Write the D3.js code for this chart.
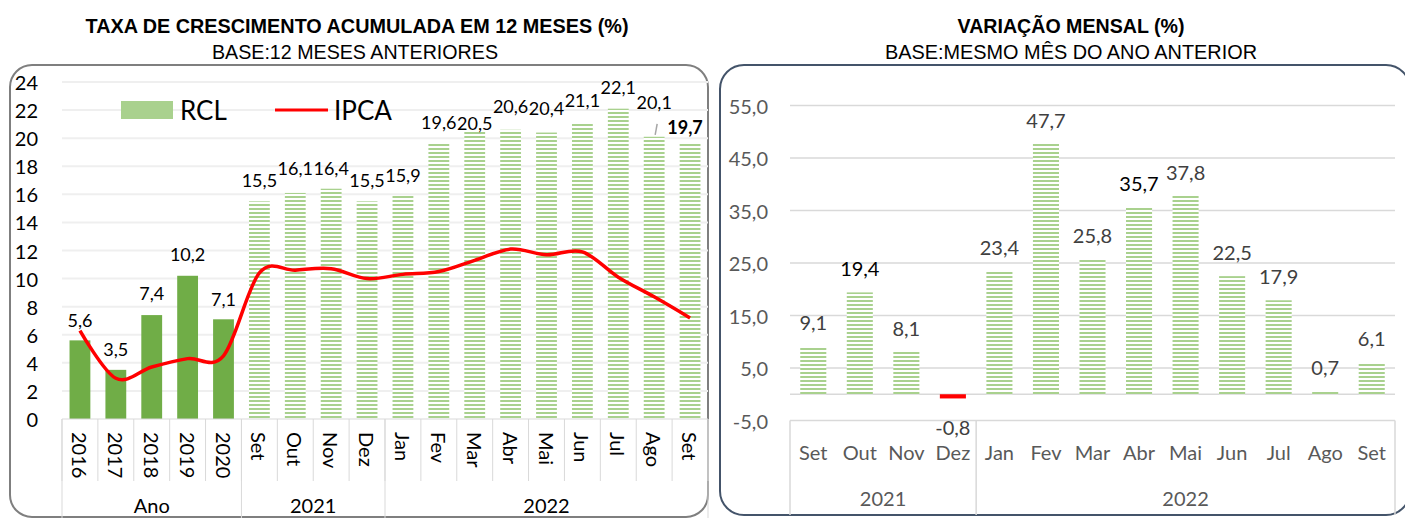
<!DOCTYPE html>
<html>
<head>
  <meta charset="utf-8">
  <title>RCL - Taxa de crescimento e variação mensal</title>
  <script src="https://d3js.org/d3.v7.min.js"></script>
  <style>
    body { margin: 0; background: #fff; }
    svg { display: block; font-family: Lato, "Open Sans", sans-serif; }
    .title { font-family: "Liberation Sans Narrow", "Arial Narrow", "Liberation Sans", sans-serif; font-weight: bold; }
    .subtitle { font-family: "Liberation Sans Narrow", "Arial Narrow", "Liberation Sans", sans-serif; }
  </style>
</head>
<body>
  <svg id="main-svg"></svg>

  <script type="text/javascript">
    const svg_width = 1405;
    const svg_height = 518;

    // ---- left chart data: accumulated 12 months ----
    const accCategories = ["2016", "2017", "2018", "2019", "2020", "Set", "Out", "Nov", "Dez",
      "Jan", "Fev", "Mar", "Abr", "Mai", "Jun", "Jul", "Ago", "Set"];
    const accGroups = ["Ano", "2021", "2022"];
    const accGroupSizes = [5, 4, 9];
    const rclValues = [5.6, 3.5, 7.4, 10.2, 7.1, 15.5, 16.1, 16.4, 15.5, 15.9, 19.6, 20.5, 20.6, 20.4, 21.1, 22.1, 20.1, 19.7];
    const ipcaValues = [6.3, 2.9, 3.7, 4.3, 4.5, 10.4, 10.6, 10.7, 10.0, 10.3, 10.5, 11.3, 12.1, 11.7, 11.9, 10.1, 8.7, 7.2];
    const accTicks = [0, 2, 4, 6, 8, 10, 12, 14, 16, 18, 20, 22, 24];

    // ---- right chart data: monthly variation ----
    const monCategories = ["Set", "Out", "Nov", "Dez", "Jan", "Fev", "Mar", "Abr", "Mai", "Jun", "Jul", "Ago", "Set"];
    const monGroups = ["2021", "2022"];
    const monGroupSizes = [4, 9];
    const monValues = [9.1, 19.4, 8.1, -0.8, 23.4, 47.7, 25.8, 35.7, 37.8, 22.5, 17.9, 0.7, 6.1];
    const monTicks = [-5, 5, 15, 25, 35, 45, 55];

    // label placement tweaks (pixels above bar top), as in the source
    var accLabelLift = [20, 21, 22, 22, 20, 21, 25, 21, 21, 21, 22, 8, 24, 25, 23, 22, 35, 15];
    var monDarkLabels = [1, 7];

    var fmt = function(d, digits) {
      return d.toFixed(digits).replace(".", ",");
    };

    var svg = d3.select("#main-svg")
      .attr("width", svg_width)
      .attr("height", svg_height);

    var defs = svg.append("defs");
    var pat = defs.append("pattern")
      .attr("id", "hatch")
      .attr("patternUnits", "userSpaceOnUse")
      .attr("width", 6)
      .attr("height", 4);
    pat.append("rect").attr("width", 6).attr("height", 4).attr("fill", "#fff");
    pat.append("rect").attr("width", 6).attr("height", 2).attr("fill", "#A9D18E");

    // narrow title helper: squeeze to the width seen in the picture
    function title(x, y, txt, cls, len) {
      svg.append("text")
        .attr("class", cls)
        .attr("x", x).attr("y", y)
        .attr("text-anchor", "middle")
        .attr("textLength", len)
        .attr("lengthAdjust", "spacingAndGlyphs")
        .style("font-size", "21px")
        .text(txt);
    }

    // ================= LEFT CHART =================
    svg.append("rect")
      .attr("x", 10).attr("y", 65)
      .attr("width", 698).attr("height", 452)
      .attr("rx", 22)
      .attr("fill", "none")
      .attr("stroke", "#7F7F7F")
      .attr("stroke-width", 2);

    title(357, 33, "TAXA DE CRESCIMENTO ACUMULADA EM 12 MESES (%)", "title", 543);
    title(355, 59, "BASE:12 MESES ANTERIORES", "subtitle", 286);

    var xa = d3.scaleBand()
      .domain(d3.range(accCategories.length))
      .range([62, 708])
      .paddingInner(0.42)
      .paddingOuter(0.21);

    var ya = d3.scaleLinear()
      .domain([0, 24])
      .range([419, 82]);

    var left = svg.append("g");

    left.selectAll(".grid")
      .data(accTicks.slice(1))
      .enter().append("line")
      .attr("x1", 62).attr("x2", 708)
      .attr("y1", d => ya(d)).attr("y2", d => ya(d))
      .attr("stroke", "#EFEFEF")
      .attr("stroke-width", 2);

    left.selectAll(".ytick")
      .data(accTicks)
      .enter().append("text")
      .attr("x", 38)
      .attr("y", d => ya(d))
      .attr("text-anchor", "end")
      .attr("dominant-baseline", "central")
      .style("font-size", "20px")
      .attr("fill", "#000")
      .text(d => d);

    left.selectAll(".bar")
      .data(rclValues)
      .enter().append("rect")
      .attr("x", (d, i) => xa(i))
      .attr("width", xa.bandwidth())
      .attr("y", d => ya(d))
      .attr("height", d => ya(0) - ya(d))
      .attr("fill", (d, i) => i < 5 ? "#70AD47" : "url(#hatch)");

    // category axis
    var step = xa.step();
    left.append("line")
      .attr("x1", 62).attr("x2", 708)
      .attr("y1", ya(0)).attr("y2", ya(0))
      .attr("stroke", "#D9D9D9");

    left.selectAll(".ctick")
      .data(d3.range(accCategories.length + 1))
      .enter().append("line")
      .attr("x1", i => 62 + i * step).attr("x2", i => 62 + i * step)
      .attr("y1", ya(0)).attr("y2", 481)
      .attr("stroke", "#D9D9D9");

    var accBounds = [0];
    accGroupSizes.forEach(function(n) { accBounds.push(accBounds[accBounds.length - 1] + n); });

    left.selectAll(".gtick")
      .data(accBounds)
      .enter().append("line")
      .attr("x1", i => 62 + i * step).attr("x2", i => 62 + i * step)
      .attr("y1", ya(0)).attr("y2", 518)
      .attr("stroke", "#D9D9D9");

    left.selectAll(".clabel")
      .data(accCategories)
      .enter().append("text")
      .attr("transform", (d, i) => "translate(" + (xa(i) + xa.bandwidth() / 2) + ",432) rotate(90)")
      .attr("text-anchor", "start")
      .attr("dominant-baseline", "central")
      .style("font-size", "20px")
      .text(d => d);

    left.selectAll(".glabel")
      .data(accGroups)
      .enter().append("text")
      .attr("x", (d, i) => 62 + (accBounds[i] + accBounds[i + 1]) / 2 * step)
      .attr("y", 505)
      .attr("text-anchor", "middle")
      .attr("dominant-baseline", "central")
      .style("font-size", "20px")
      .text(d => d);

    // IPCA line
    var line = d3.line()
      .x((d, i) => xa(i) + xa.bandwidth() / 2)
      .y(d => ya(d))
      .curve(d3.curveCardinal.tension(0));

    left.append("path")
      .datum(ipcaValues)
      .attr("d", line)
      .attr("fill", "none")
      .attr("stroke", "#FF0000")
      .attr("stroke-width", 3.5);

    // leader line for Ago label
    left.append("line")
      .attr("x1", xa(16) + xa.bandwidth() / 2 + 1).attr("y1", ya(rclValues[16]) - 2)
      .attr("x2", xa(16) + xa.bandwidth() / 2 + 3).attr("y2", ya(rclValues[16]) - 13)
      .attr("stroke", "#A6A6A6")
      .attr("stroke-width", 1.5);

    left.selectAll(".vlabel")
      .data(rclValues)
      .enter().append("text")
      .attr("x", (d, i) => xa(i) + xa.bandwidth() / 2 + (i === 17 ? -5 : 0))
      .attr("y", (d, i) => ya(d) - accLabelLift[i])
      .attr("text-anchor", "middle")
      .attr("dominant-baseline", "central")
      .style("font-size", "18px")
      .style("font-weight", (d, i) => i === 17 ? "bold" : "normal")
      .text(d => fmt(d, 1));

    // legend
    left.append("rect")
      .attr("x", 121).attr("y", 101)
      .attr("width", 52).attr("height", 18)
      .attr("fill", "#A9D18E");
    left.append("text")
      .attr("x", 180).attr("y", 110)
      .attr("dominant-baseline", "central")
      .style("font-size", "26px")
      .text("RCL");
    left.append("line")
      .attr("x1", 275).attr("x2", 328)
      .attr("y1", 110).attr("y2", 110)
      .attr("stroke", "#FF0000")
      .attr("stroke-width", 3);
    left.append("text")
      .attr("x", 334).attr("y", 110)
      .attr("dominant-baseline", "central")
      .style("font-size", "26px")
      .text("IPCA");

    // ================= RIGHT CHART =================
    svg.append("rect")
      .attr("x", 720).attr("y", 65)
      .attr("width", 690).attr("height", 450)
      .attr("rx", 24)
      .attr("fill", "none")
      .attr("stroke", "#44546A")
      .attr("stroke-width", 2);

    title(1071, 33, "VARIAÇÃO MENSAL (%)", "title", 227);
    title(1071, 59, "BASE:MESMO MÊS DO ANO ANTERIOR", "subtitle", 372);

    var xm = d3.scaleBand()
      .domain(d3.range(monCategories.length))
      .range([790, 1395])
      .paddingInner(0.44)
      .paddingOuter(0.22);

    var ym = d3.scaleLinear()
      .domain([-5, 55])
      .range([420.5, 105.5]);

    var right = svg.append("g");

    right.selectAll(".grid")
      .data(monTicks.slice(1))
      .enter().append("line")
      .attr("x1", 790).attr("x2", 1395)
      .attr("y1", d => ym(d)).attr("y2", d => ym(d))
      .attr("stroke", "#D9D9D9")
      .attr("stroke-width", 1.5);

    right.append("line")
      .attr("x1", 790).attr("x2", 1395)
      .attr("y1", ym(0)).attr("y2", ym(0))
      .attr("stroke", "#D9D9D9")
      .attr("stroke-width", 1.5);

    right.selectAll(".ytick")
      .data(monTicks)
      .enter().append("text")
      .attr("x", 768)
      .attr("y", d => ym(d))
      .attr("text-anchor", "end")
      .attr("dominant-baseline", "central")
      .style("font-size", "20px")
      .attr("fill", "#595959")
      .text(d => fmt(d, 1));

    right.selectAll(".bar")
      .data(monValues)
      .enter().append("rect")
      .attr("x", (d, i) => xm(i))
      .attr("width", xm.bandwidth())
      .attr("y", d => ym(Math.max(0, d)))
      .attr("height", d => Math.abs(ym(d) - ym(0)))
      .attr("fill", d => d < 0 ? "#FF0000" : "url(#hatch)");

    right.append("line")
      .attr("x1", 790).attr("x2", 1395)
      .attr("y1", ym(-5)).attr("y2", ym(-5))
      .attr("stroke", "#D9D9D9")
      .attr("stroke-width", 1.5);

    var monStep = xm.step();
    var monBounds = [0];
    monGroupSizes.forEach(function(n) { monBounds.push(monBounds[monBounds.length - 1] + n); });

    right.selectAll(".gtick")
      .data(monBounds)
      .enter().append("line")
      .attr("x1", i => 790 + i * monStep).attr("x2", i => 790 + i * monStep)
      .attr("y1", ym(-5)).attr("y2", 515)
      .attr("stroke", "#D9D9D9")
      .attr("stroke-width", 1.5);

    right.selectAll(".clabel")
      .data(monCategories)
      .enter().append("text")
      .attr("x", (d, i) => xm(i) + xm.bandwidth() / 2)
      .attr("y", 452)
      .attr("text-anchor", "middle")
      .attr("dominant-baseline", "central")
      .style("font-size", "20px")
      .attr("fill", "#595959")
      .text(d => d);

    right.selectAll(".glabel")
      .data(monGroups)
      .enter().append("text")
      .attr("x", (d, i) => 790 + (monBounds[i] + monBounds[i + 1]) / 2 * monStep)
      .attr("y", 498)
      .attr("text-anchor", "middle")
      .attr("dominant-baseline", "central")
      .style("font-size", "20px")
      .attr("fill", "#595959")
      .text(d => d);

    right.selectAll(".vlabel")
      .data(monValues)
      .enter().append("text")
      .attr("x", (d, i) => xm(i) + xm.bandwidth() / 2)
      .attr("y", d => d < 0 ? ym(d) + 29 : ym(d) - 24)
      .attr("text-anchor", "middle")
      .attr("dominant-baseline", "central")
      .style("font-size", "20px")
      .attr("fill", (d, i) => monDarkLabels.indexOf(i) >= 0 ? "#000" : "#404040")
      .text(d => fmt(d, 1));
  </script>
</body>
</html>
